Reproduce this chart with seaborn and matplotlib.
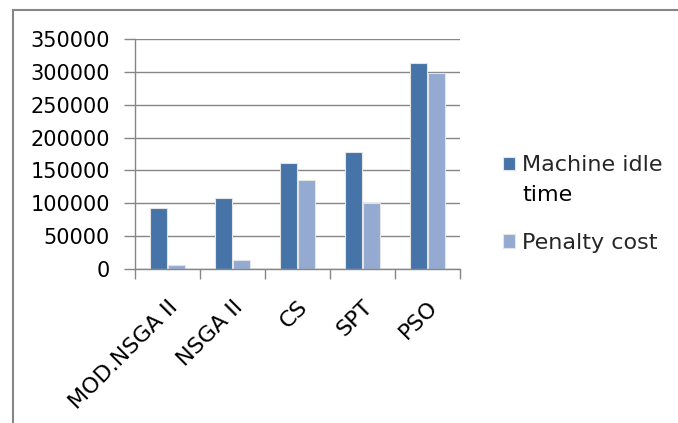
import matplotlib
matplotlib.use("Agg")
import matplotlib.pyplot as plt
import seaborn as sns
import pandas as pd
from matplotlib.patches import Rectangle
from matplotlib.ticker import MultipleLocator

categories = ["MOD.NSGA II", "NSGA II", "CS", "SPT", "PSO"]
machine_idle = [93000, 108000, 162000, 178000, 314000]
penalty_cost = [6500, 13500, 136000, 100000, 298000]
series = ["Machine idle", "Penalty cost"]
series_extra_line = "time"
colors = ["#4674A8", "#94AAD1"]

df = pd.DataFrame({
    "category": categories * 2,
    "value": machine_idle + penalty_cost,
    "series": [series[0]] * len(categories) + [series[1]] * len(categories),
})

sns.set_theme(style="white")
plt.rcParams["font.family"] = ["DejaVu Sans"]

W, H = 678, 423
fig = plt.figure(figsize=(W / 100, H / 100), dpi=100)
ax = fig.add_axes([135 / W, 1 - 269 / H, (460 - 135) / W, (269 - 39) / H])

sns.barplot(data=df, x="category", y="value", hue="series", palette=colors,
            width=0.56, gap=0.08, ax=ax, saturation=1,
            edgecolor="#e4e4e4", linewidth=0.8)

ax.set_ylim(0, 350000)
ax.set_xlim(-0.5, 4.5)
ax.yaxis.set_major_locator(MultipleLocator(50000))
ax.grid(axis="y", color="#868686", linewidth=1)
ax.set_axisbelow(True)
for s in ["top", "right"]:
    ax.spines[s].set_visible(False)
for s in ["left", "bottom"]:
    ax.spines[s].set_color("#868686")
    ax.spines[s].set_linewidth(1)
ax.set_xlabel("")
ax.set_ylabel("")

ax.tick_params(axis="y", length=8, color="#868686", width=1, left=True,
               labelsize=15, pad=10, labelcolor="black")
ax.set_xticks(range(len(categories)))
ax.set_xticklabels(categories, rotation=45, ha="right", rotation_mode="anchor",
                   fontsize=16, color="black")
ax.tick_params(axis="x", length=0, pad=20)
ax.set_xticks([-0.5 + i for i in range(len(categories) + 1)], minor=True)
ax.tick_params(axis="x", which="minor", length=7, color="#868686", width=1, bottom=True)

leg = ax.legend(loc="center left", bbox_to_anchor=(503 / W, 1 - 204 / H),
                bbox_transform=fig.transFigure, frameon=False, fontsize=16,
                handlelength=0.55, handleheight=0.55, handletextpad=0.32,
                labelspacing=2.6, borderpad=0, borderaxespad=0)
leg.set_title(None)

fig.canvas.draw()
t0 = leg.get_texts()[0]
bb = t0.get_window_extent(fig.canvas.get_renderer())
fig.text(bb.x0 / W, 1 - 195 / H, series_extra_line, fontsize=16,
         va="center", ha="left", color="black")

# outer frame
fig.patches.append(Rectangle((12.5 / W, -0.1), 1.2, (H - 10) / H + 0.1,
                             transform=fig.transFigure, fill=False,
                             edgecolor="#868686", linewidth=1.5))

fig.savefig("out.png", dpi=100, facecolor="white")
